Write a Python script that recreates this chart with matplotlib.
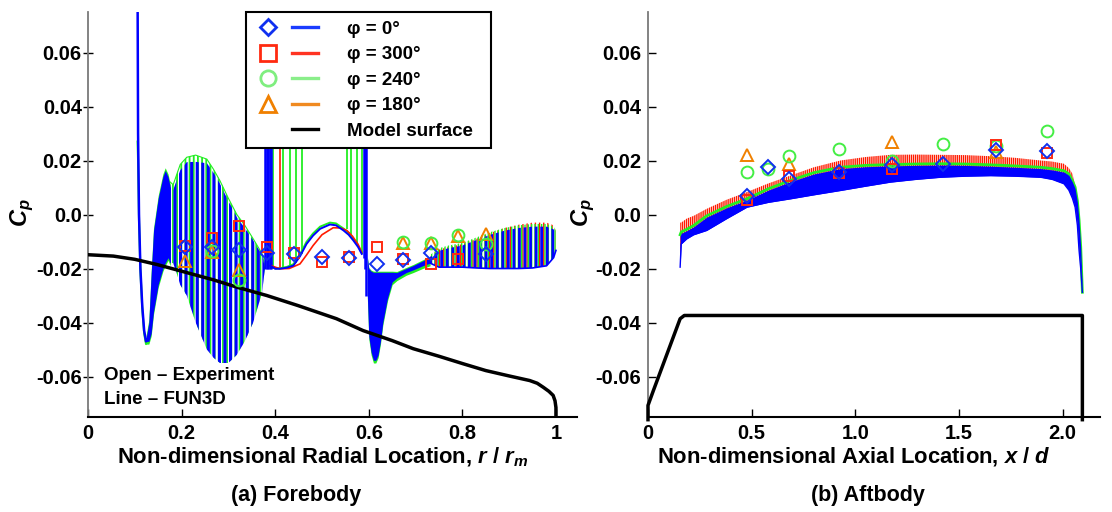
import matplotlib
matplotlib.use("Agg")
import matplotlib.pyplot as plt
from matplotlib.lines import Line2D
from matplotlib.legend_handler import HandlerTuple

plt.rcParams['font.family'] = ['Liberation Sans', 'DejaVu Sans']
plt.rcParams['font.weight'] = 'bold'
plt.rcParams['mathtext.fontset'] = 'custom'
plt.rcParams['mathtext.it'] = 'Liberation Sans:bold:italic'
plt.rcParams['mathtext.rm'] = 'Liberation Sans:bold'
plt.rcParams['mathtext.bf'] = 'Liberation Sans:bold'

BLUE = '#0000ff'
RED = '#ff1a00'
GREEN = '#22ee22'
MK_BLUE = '#1030f0'
MK_RED = '#ff2a10'
MK_GREEN = '#44ee44'
MK_ORANGE = '#f08000'

# ---------------- Forebody data ----------------
fwd_surf_r = [0, 0.054, 0.10, 0.147, 0.20, 0.268, 0.32, 0.382, 0.45, 0.531, 0.588, 0.65, 0.695,
              0.75, 0.802, 0.85, 0.90, 0.944, 0.96, 0.973, 0.985, 0.994, 0.998, 1.0, 1.0]
fwd_surf_cp = [-0.0149, -0.0154, -0.0166, -0.0185, -0.021, -0.0242, -0.027, -0.030, -0.0338, -0.0386,
               -0.043, -0.0467, -0.0497, -0.0525, -0.0553, -0.0578, -0.0598, -0.0615, -0.0625, -0.064,
               -0.0655, -0.067, -0.069, -0.0715, -0.076]

# leading spike
spike_r = [0.106, 0.107, 0.109, 0.112, 0.116, 0.120, 0.124, 0.128]
spike_cp = [0.08, 0.03, 0.0, -0.02, -0.034, -0.043, -0.047, -0.046]
spike_green_cp = [0.027, 0.02, -0.002, -0.021, -0.035, -0.044, -0.048, -0.047]

# region A (dense)
A_r = [0.124, 0.130, 0.135, 0.140, 0.150, 0.160, 0.165, 0.171, 0.176]
A_up = [-0.046, -0.040, -0.022, -0.006, 0.006, 0.014, 0.0163, 0.014, 0.010]
A_lo = [-0.047, -0.047, -0.044, -0.036, -0.026, -0.020, -0.018, -0.016, -0.018]

# region B (sparse oscillation)
B_r = [0.176, 0.182, 0.19, 0.197, 0.211, 0.23, 0.254, 0.268, 0.282, 0.30, 0.318, 0.335, 0.353, 0.372, 0.378]
B_up_blue = [0.010, 0.009, 0.013, 0.0163, 0.0194, 0.0195, 0.019, 0.0155, 0.0114, 0.005, -0.001, -0.005,
             -0.0096, -0.0150, -0.0195]
B_up_green = [0.012, 0.011, 0.015, 0.0185, 0.0212, 0.022, 0.0205, 0.0168, 0.0125, 0.006, 0.0, -0.004,
              -0.009, -0.0145, -0.019]
B_lo = [-0.018, -0.018, -0.022, -0.026, -0.030, -0.040, -0.050, -0.053, -0.055, -0.055, -0.052, -0.047,
        -0.040, -0.029, -0.02]

# region C smooth bump
C_blue_r = [0.39, 0.40, 0.41, 0.425, 0.439, 0.453, 0.467, 0.481, 0.496, 0.517, 0.53, 0.546, 0.557, 0.567, 0.577, 0.585]
C_blue_cp = [-0.019, -0.0201, -0.0201, -0.0197, -0.0189, -0.0155, -0.0109, -0.0078, -0.0053, -0.0037,
             -0.0040, -0.0059, -0.0075, -0.0096, -0.0120, -0.0146]
C_green_cp = [-0.019, -0.0200, -0.0199, -0.0194, -0.0184, -0.0148, -0.0101, -0.0070, -0.0045, -0.0030,
              -0.0033, -0.0052, -0.0068, -0.0090, -0.0115, -0.0142]
C_red_r = [0.392, 0.41, 0.43, 0.453, 0.467, 0.481, 0.50, 0.524, 0.540, 0.553, 0.565, 0.577, 0.585]
C_red_cp = [-0.019, -0.0201, -0.020, -0.0183, -0.0150, -0.0115, -0.0075, -0.0049, -0.0050, -0.0059,
            -0.0080, -0.0110, -0.0140]
blue_spike_r = [0.379, 0.382, 0.385, 0.388, 0.391, 0.589, 0.592, 0.595]
blue_spike_base = [-0.02, -0.02, -0.02, -0.02, -0.02, -0.016, -0.02, -0.03]
green_spike_r = [0.395, 0.417, 0.432, 0.444, 0.457, 0.553, 0.563, 0.575, 0.585]
green_spike_base = [-0.020, -0.020, -0.0195, -0.018, -0.0145, -0.0055, -0.0075, -0.011, -0.0145]
red_spike_r = [0.410]
red_spike_base = [-0.020]

# region D (dip)
D_r = [0.597, 0.600, 0.605, 0.610, 0.615, 0.620, 0.625, 0.630, 0.640, 0.650, 0.660, 0.680, 0.695, 0.715, 0.731]
D_up = [-0.016, -0.020, -0.021, -0.0214, -0.0214, -0.0214, -0.0214, -0.0214, -0.0214, -0.0214, -0.0215,
        -0.0200, -0.0189, -0.0172, -0.0158]
D_lo = [-0.030, -0.045, -0.051, -0.054, -0.054, -0.052, -0.047, -0.040, -0.031, -0.025, -0.0235, -0.0215,
        -0.0205, -0.019, -0.018]

# region E (aft oscillation)
E_r = [0.731, 0.75, 0.77, 0.80, 0.83, 0.86, 0.89, 0.92, 0.95, 0.98, 0.995, 1.0]
E_up_blue = [-0.0158, -0.0135, -0.0125, -0.0115, -0.0095, -0.0075, -0.006, -0.005, -0.0045, -0.0045, -0.0055, -0.0065]
E_up_green = [-0.015, -0.0125, -0.0115, -0.0105, -0.0085, -0.0065, -0.005, -0.004, -0.0035, -0.0035, -0.0045, -0.006]
E_up_red = [-0.0155, -0.013, -0.012, -0.011, -0.009, -0.0068, -0.005, -0.0038, -0.003, -0.003, -0.004, -0.006]
E_lo = [-0.018, -0.0195, -0.0195, -0.0195, -0.0198, -0.020, -0.020, -0.020, -0.0198, -0.019, -0.016, -0.0133]

# experiment forebody
fwd_exp_r_0 = [0.207, 0.265, 0.323, 0.382, 0.441, 0.499, 0.557, 0.617, 0.674, 0.732, 0.850]
fwd_exp_cp_0 = [-0.012, -0.0119, -0.0131, -0.0143, -0.0146, -0.0158, -0.0161, -0.0183, -0.0167, -0.0143, -0.0146]
fwd_exp_r_300 = [0.207, 0.265, 0.323, 0.382, 0.441, 0.499, 0.557, 0.617, 0.674, 0.732, 0.791]
fwd_exp_cp_300 = [-0.0116, -0.0088, -0.0044, -0.0121, -0.0144, -0.0177, -0.0158, -0.0121, -0.0165, -0.0183, -0.0163]
fwd_exp_r_240 = [0.265, 0.323, 0.674, 0.732, 0.791, 0.850]
fwd_exp_cp_240 = [-0.0137, -0.0244, -0.0102, -0.0104, -0.0077, -0.0111]
fwd_exp_r_180 = [0.207, 0.265, 0.323, 0.674, 0.732, 0.791, 0.850]
fwd_exp_cp_180 = [-0.0173, -0.0139, -0.0205, -0.0107, -0.0106, -0.0081, -0.0072]

# ---------------- Aftbody data ----------------
aft_surf_x = [0.0, 0.0, 0.026, 0.155, 0.175, 2.095, 2.095]
aft_surf_cp = [-0.076, -0.0707, -0.0652, -0.0386, -0.0374, -0.0374, -0.076]

aft_x = [0.155, 0.160, 0.187, 0.22, 0.283, 0.38, 0.477, 0.58, 0.686, 0.80, 0.928, 1.05, 1.169, 1.29, 1.411,
         1.53, 1.652, 1.77, 1.894, 1.95, 2.006, 2.03, 2.047, 2.06, 2.071, 2.079, 2.087, 2.095]
aft_red_up = [-0.003, -0.003, -0.0015, -0.0005, 0.0021, 0.0055, 0.0083, 0.0115, 0.0144, 0.0175, 0.020, 0.0213,
              0.0221, 0.0222, 0.0221, 0.022, 0.0216, 0.021, 0.020, 0.0196, 0.0188, 0.0172, 0.0151, 0.011,
              0.0064, 0.0, -0.0108, -0.0288]
aft_green = [-0.0075, -0.0065, -0.0055, -0.0041, -0.0005, 0.003, 0.0058, 0.0095, 0.0126, 0.0155, 0.0175,
             0.0182, 0.0185, 0.0187, 0.0188, 0.0187, 0.0184, 0.018, 0.0175, 0.0170, 0.0162, 0.0150, 0.0125,
             0.0101, 0.005, -0.002, -0.012, -0.0288]
aft_blue_up = [-0.0080, -0.0070, -0.0060, -0.0046, -0.001, 0.0025, 0.0053, 0.0090, 0.0121, 0.0150, 0.0170,
               0.0177, 0.0180, 0.0182, 0.0183, 0.0182, 0.0179, 0.0175, 0.0170, 0.0165, 0.0157, 0.0145,
               0.0120, 0.0096, 0.0045, -0.0025, -0.0125, -0.0288]
aft_blue_lo = [-0.0195, -0.0109, -0.009, -0.0075, -0.0059, -0.0015, 0.0027, 0.0045, 0.0058, 0.0073, 0.0089,
               0.0105, 0.012, 0.013, 0.0138, 0.0142, 0.0144, 0.0142, 0.0138, 0.0130, 0.0114, 0.0090, 0.0060,
               0.0027, -0.004, -0.0133, -0.020, -0.0288]

aft_exp_x_0 = [0.477, 0.580, 0.678, 0.923, 1.177, 1.423, 1.676, 1.923]
aft_exp_cp_0 = [0.0067, 0.0175, 0.0132, 0.0157, 0.0185, 0.0188, 0.0240, 0.0235]
aft_exp_x_300 = [0.477, 0.678, 0.923, 1.177, 1.676, 1.923]
aft_exp_cp_300 = [0.0054, 0.0144, 0.0153, 0.0169, 0.0256, 0.0227]
aft_exp_x_240 = [0.477, 0.580, 0.678, 0.923, 1.177, 1.423, 1.676, 1.923]
aft_exp_cp_240 = [0.0159, 0.0168, 0.0216, 0.0243, 0.0200, 0.0262, 0.0253, 0.0309]
aft_exp_x_180 = [0.477, 0.678, 1.177, 1.676]
aft_exp_cp_180 = [0.0221, 0.0188, 0.0270, 0.0231]

yticks = [-0.06, -0.04, -0.02, 0.0, 0.02, 0.04, 0.06]
ytick_labels = ['-0.06', '-0.04', '-0.02', '0.0', '0.02', '0.04', '0.06']
fwd_xticks = [0, 0.2, 0.4, 0.6, 0.8, 1.0]
fwd_xtick_labels = ['0', '0.2', '0.4', '0.6', '0.8', '1']
aft_xticks = [0, 0.5, 1.0, 1.5, 2.0]
aft_xtick_labels = ['0', '0.5', '1.0', '1.5', '2.0']

legend_labels = ['\u03c6 = 0\u00b0', '\u03c6 = 300\u00b0', '\u03c6 = 240\u00b0', '\u03c6 = 180\u00b0',
                 'Model surface\u2002']

W, H = 1112, 512
fig = plt.figure(figsize=(W / 100, H / 100), dpi=100)
ax1 = fig.add_axes([88 / W, 1 - 417 / H, (577 - 88) / W, 405 / H])
ax2 = fig.add_axes([648 / W, 1 - 417 / H, (1100 - 648) / W, 405 / H])


def hatch_fill(ax, x, lo, up, color, hatch, lw=1.4, z=2):
    with plt.rc_context({'hatch.color': color, 'hatch.linewidth': lw}):
        ax.fill_between(x, lo, up, facecolor='none', edgecolor=color, hatch=hatch, linewidth=0, zorder=z)


for ax in (ax1, ax2):
    ax.set_ylim(-0.075, 0.075)
    ax.set_yticks(yticks)
    ax.set_yticklabels(ytick_labels)
    for s in ('top', 'right'):
        ax.spines[s].set_visible(False)
    ax.spines['left'].set_color('#7a7a7a')
    ax.spines['left'].set_linewidth(1.3)
    ax.spines['bottom'].set_color('black')
    ax.spines['bottom'].set_linewidth(1.5)
    ax.tick_params(labelsize=14.5, width=1.0, length=6)
    ax.tick_params(axis='x', direction='in', pad=5)

ax1.tick_params(axis='y', direction='inout', length=7, pad=1)
ax2.tick_params(axis='y', direction='in', pad=5)

# ---- Forebody plotting ----
ax1.set_xlim(0, 1.045)
ax1.set_xticks(fwd_xticks)
ax1.set_xticklabels(fwd_xtick_labels)

ax1.plot(spike_r, spike_green_cp, color=GREEN, lw=1.5, zorder=2)
ax1.plot(spike_r, spike_cp, color=BLUE, lw=1.8, zorder=3)

ax1.fill_between(A_r, [v - 0.001 for v in A_lo], [v + 0.001 for v in A_up], color=GREEN, lw=0, zorder=2)
ax1.fill_between(A_r, A_lo, A_up, color=BLUE, lw=0, zorder=3)

hatch_fill(ax1, B_r, B_lo, B_up_green, GREEN, '||||', lw=1.3, z=2)
hatch_fill(ax1, B_r, B_lo, B_up_blue, BLUE, '|||', lw=2.2, z=3)
ax1.plot(B_r, B_up_green, color=GREEN, lw=0.8, zorder=2)

ax1.vlines(green_spike_r, green_spike_base, 0.08, color=GREEN, lw=1.3, zorder=2)
ax1.vlines(red_spike_r, red_spike_base, 0.08, color=RED, lw=1.2, zorder=2)
ax1.vlines(blue_spike_r, blue_spike_base, 0.08, color=BLUE, lw=1.8, zorder=3)
ax1.plot(C_blue_r, C_green_cp, color=GREEN, lw=1.4, zorder=2)
ax1.plot(C_red_r, C_red_cp, color=RED, lw=1.2, zorder=3)
ax1.plot(C_blue_r, C_blue_cp, color=BLUE, lw=1.4, zorder=3)

ax1.fill_between(D_r, [v - 0.001 for v in D_lo], [v + 0.0004 for v in D_up], color=GREEN, lw=0, zorder=2)
ax1.fill_between(D_r, D_lo, D_up, color=BLUE, lw=0, zorder=3)

hatch_fill(ax1, E_r, E_lo, E_up_red, RED, '||||', lw=1.0, z=2)
hatch_fill(ax1, E_r, E_lo, E_up_green, GREEN, '|||||', lw=1.0, z=2)
hatch_fill(ax1, E_r, E_lo, E_up_blue, BLUE, '|||', lw=2.0, z=3)
ax1.plot(E_r, E_lo, color=BLUE, lw=1.2, zorder=3)

ax1.plot(fwd_surf_r, fwd_surf_cp, color='black', lw=2.5, zorder=4)

mkw = dict(ls='none', mfc='none', mew=1.4, zorder=6)
ax1.plot(fwd_exp_r_180, fwd_exp_cp_180, marker='^', ms=8.5, mec=MK_ORANGE, **mkw)
ax1.plot(fwd_exp_r_240, fwd_exp_cp_240, marker='o', ms=8.5, mec=MK_GREEN, **mkw)
ax1.plot(fwd_exp_r_300, fwd_exp_cp_300, marker='s', ms=7.5, mec=MK_RED, **mkw)
ax1.plot(fwd_exp_r_0, fwd_exp_cp_0, marker='D', ms=6.8, mec=MK_BLUE, **mkw)

# ---- Aftbody plotting ----
ax2.set_xlim(0, 2.18)
ax2.set_xticks(aft_xticks)
ax2.set_xticklabels(aft_xtick_labels)

hatch_fill(ax2, aft_x, aft_blue_lo, aft_red_up, RED, '||||||||', lw=1.0, z=2)
ax2.plot(aft_x, aft_green, color=GREEN, lw=2.0, zorder=3)
ax2.fill_between(aft_x, aft_blue_lo, aft_blue_up, color=BLUE, lw=0, zorder=3)
ax2.plot(aft_x, aft_blue_lo, color=BLUE, lw=1.0, zorder=3)

ax2.plot(aft_surf_x, aft_surf_cp, color='black', lw=2.5, zorder=4, clip_on=False)

ax2.plot(aft_exp_x_180, aft_exp_cp_180, marker='^', ms=8.5, mec=MK_ORANGE, **mkw)
ax2.plot(aft_exp_x_240, aft_exp_cp_240, marker='o', ms=8.5, mec=MK_GREEN, **mkw)
ax2.plot(aft_exp_x_300, aft_exp_cp_300, marker='s', ms=7.5, mec=MK_RED, **mkw)
ax2.plot(aft_exp_x_0, aft_exp_cp_0, marker='D', ms=6.8, mec=MK_BLUE, **mkw)

# ---- Legend ----
lw_leg = 2.4
h0 = (Line2D([], [], ls='none', marker='D', ms=8.5, mfc='none', mec=MK_BLUE, mew=2),
      Line2D([], [], color='#1a3cff', lw=lw_leg))
h1 = (Line2D([], [], ls='none', marker='s', ms=11, mfc='none', mec=MK_RED, mew=2),
      Line2D([], [], color='#ff3322', lw=lw_leg))
h2 = (Line2D([], [], ls='none', marker='o', ms=11, mfc='none', mec='#7fee7f', mew=2),
      Line2D([], [], color='#8aee8a', lw=lw_leg))
h3 = (Line2D([], [], ls='none', marker='^', ms=11.5, mfc='none', mec=MK_ORANGE, mew=2),
      Line2D([], [], color='#f08a20', lw=lw_leg))
h4 = (Line2D([], [], ls='none'), Line2D([], [], color='black', lw=lw_leg))
leg = ax1.legend([h0, h1, h2, h3, h4], legend_labels,
                 handler_map={tuple: HandlerTuple(ndivide=None, pad=0.6)},
                 loc='upper left', bbox_to_anchor=(246 / W, 1 - 12 / H), bbox_transform=fig.transFigure,
                 fontsize=13.5, frameon=True, fancybox=False, framealpha=1, edgecolor='black',
                 handlelength=3.4, handletextpad=1.55, labelspacing=0.45, borderpad=0.45, borderaxespad=0)
leg.get_frame().set_linewidth(1.5)
leg.set_zorder(10)
for t in leg.get_texts():
    t.set_fontweight('bold')

# ---- Texts ----
fig.text(104 / W, 1 - 375 / H, 'Open \u2013 Experiment', fontsize=13.5, weight='bold', va='center', ha='left')
fig.text(104 / W, 1 - 399 / H, 'Line \u2013 FUN3D', fontsize=13.5, weight='bold', va='center', ha='left')

fig.text(323 / W, 1 - 457 / H, 'Non-dimensional Radial Location, $r$ / $r_m$', fontsize=15.8, weight='bold',
         ha='center', va='center')
fig.text(854 / W, 1 - 456 / H, 'Non-dimensional Axial Location, $x$ / $d$', fontsize=15.8, weight='bold',
         ha='center', va='center')
fig.text(296 / W, 1 - 495 / H, '(a) Forebody', fontsize=15.5, weight='bold', ha='center', va='center')
fig.text(868 / W, 1 - 495 / H, '(b) Aftbody', fontsize=15.5, weight='bold', ha='center', va='center')
fig.text(22 / W, 1 - 213 / H, '$C_p$', fontsize=17, rotation=90, ha='center', va='center')
fig.text(583 / W, 1 - 213 / H, '$C_p$', fontsize=17, rotation=90, ha='center', va='center')

fig.savefig('out.png', dpi=100)
